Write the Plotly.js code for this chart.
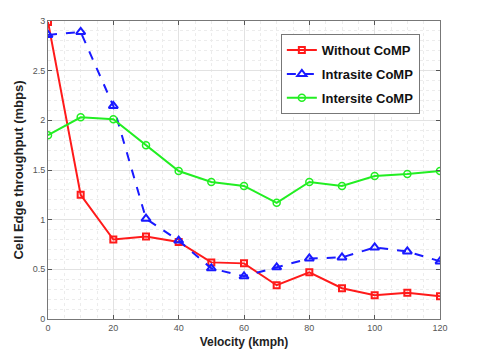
<!DOCTYPE html>
<html>
<head>
<meta charset="utf-8">
<script src="https://cdn.plot.ly/plotly-3.0.1.min.js"></script>
<style>html,body{margin:0;padding:0;background:#fff;}#chart{width:493px;height:360px;}</style>
</head>
<body>
<div id="chart"></div>
<script>
var velocity = [0, 10, 20, 30, 40, 50, 60, 70, 80, 90, 100, 110, 120];
var withoutCoMP = [2.99, 1.25, 0.80, 0.83, 0.775, 0.57, 0.56, 0.34, 0.47, 0.31, 0.24, 0.265, 0.23];
var intrasiteCoMP = [2.86, 2.89, 2.145, 1.01, 0.79, 0.51, 0.43, 0.52, 0.61, 0.62, 0.72, 0.68, 0.58];
var intersiteCoMP = [1.85, 2.03, 2.01, 1.75, 1.49, 1.38, 1.34, 1.17, 1.38, 1.34, 1.44, 1.46, 1.49];
var seriesNames = ["Without CoMP", "Intrasite CoMP", "Intersite CoMP"];
var xTicks = [0, 20, 40, 60, 80, 100, 120];
var yTicks = [0, 0.5, 1, 1.5, 2, 2.5, 3];
var yTickText = ["0", "0.5", "1", "1.5", "2", "2.5", "3"];

var traces = [
  {x: velocity, y: withoutCoMP, name: seriesNames[0], legendgroup: "a", mode: "lines+markers",
   line: {color: "#ff1a1a", width: 2},
   marker: {symbol: "square-open", size: 6, color: "#ff1a1a", line: {width: 2, color: "#ff1a1a"}}},
  {x: velocity, y: intrasiteCoMP, name: seriesNames[1], legendgroup: "b", mode: "lines+markers",
   line: {color: "#1a1aff", width: 2, dash: "dash"},
   marker: {symbol: "triangle-up-open", size: 8, color: "#1a1aff", line: {width: 2, color: "#1a1aff"}}},
  {x: velocity, y: intersiteCoMP, name: seriesNames[2], legendgroup: "c", mode: "lines+markers",
   line: {color: "#22ee22", width: 2},
   marker: {symbol: "circle-open", size: 7, color: "#22ee22", line: {width: 1.5, color: "#22ee22"}}}
];

var axisCommon = {
  showline: true, linecolor: "#777", linewidth: 1, mirror: "ticks",
  ticks: "inside", ticklen: 4, tickcolor: "#555",
  showgrid: true, gridcolor: "#e2e2e2", gridwidth: 1,
  zeroline: false,
  tickfont: {family: "Liberation Sans, Arial, sans-serif", size: 9, color: "#555"}
};

var layout = {
  width: 493, height: 360,
  margin: {l: 48, r: 53, t: 21, b: 41},
  paper_bgcolor: "#fff", plot_bgcolor: "#fff",
  showlegend: true,
  xaxis: Object.assign({}, axisCommon, {
    range: [0, 120], tickvals: xTicks, ticktext: xTicks.map(String),
    minor: {dtick: 5, showgrid: true, gridcolor: "#ececec", griddash: "dot", gridwidth: 1},
    title: {text: "Velocity (kmph)", standoff: 5,
      font: {family: "Liberation Sans, Arial, sans-serif", size: 12, color: "#222", weight: "bold"}}
  }),
  yaxis: Object.assign({}, axisCommon, {
    range: [0, 3], tickvals: yTicks, ticktext: yTickText,
    minor: {dtick: 0.1, showgrid: true, gridcolor: "#ececec", griddash: "dot", gridwidth: 1},
    title: {text: "Cell Edge throughput (mbps)", standoff: 6,
      font: {family: "Liberation Sans, Arial, sans-serif", size: 13, color: "#222", weight: "bold"}}
  }),
  legend: {
    x: 0.594, y: 0.956, xanchor: "left", yanchor: "top",
    bgcolor: "#fff", bordercolor: "#777", borderwidth: 1,
    traceorder: "grouped", tracegroupgap: 4,
    font: {family: "Liberation Sans, Arial, sans-serif", size: 13, color: "#111", weight: "bold"}
  }
};

Plotly.newPlot("chart", traces, layout, {displayModeBar: false, staticPlot: true});
</script>
</body>
</html>
